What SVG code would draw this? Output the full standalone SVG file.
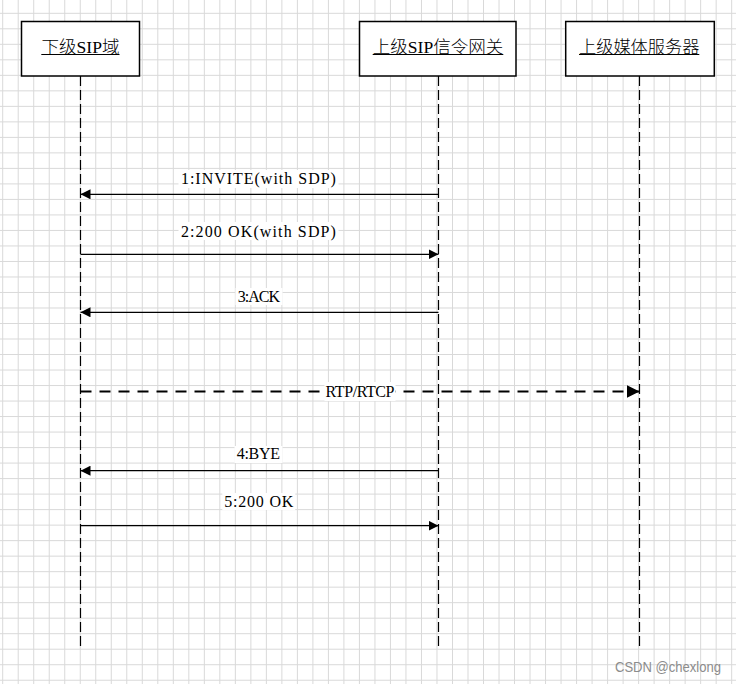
<svg xmlns="http://www.w3.org/2000/svg" width="736" height="684" viewBox="0 0 736 684">
  <style>
    .grid { stroke: #d9d9d9; stroke-width: 1; fill: none; }
    .box { fill: #ffffff; stroke: #000000; stroke-width: 1.5; }
    .life { stroke: #000000; stroke-width: 1.2; stroke-dasharray: 10 4; fill: none; }
    .ul { stroke: #000000; stroke-width: 1; }
    .hdr { font-family: "Liberation Serif", "Noto Sans CJK SC", serif; font-size: 17px; font-weight: 300; fill: #000000; text-anchor: middle; }
    .lat { font-weight: 400; }
    .lbl { font-family: "Liberation Serif", "Noto Sans CJK SC", serif; font-size: 16px; fill: #000000; text-anchor: middle; }
    .bg { fill: #ffffff; }
    .msg { stroke: #000000; stroke-width: 1.2; fill: none; }
    .rtp { stroke: #000000; stroke-width: 2; stroke-dasharray: 11 8; fill: none; }
    .wm { font-family: "Liberation Sans", "Noto Sans", sans-serif; font-size: 14px; fill: #8c8c8c; }
  </style>
  <defs>
    <marker id="arr" markerUnits="userSpaceOnUse" markerWidth="10" markerHeight="10" refX="10" refY="5" orient="auto">
      <path d="M0,0 L10,5 L0,10 Z" fill="#000000"/>
    </marker>
    <marker id="arrBig" markerUnits="userSpaceOnUse" markerWidth="13" markerHeight="13" refX="13" refY="6.5" orient="auto">
      <path d="M0,0 L13,6.5 L0,13 Z" fill="#000000"/>
    </marker>
  </defs>

  <rect x="0" y="0" width="736" height="684" fill="#ffffff"/>

  <g id="grid">
    <path class="grid" d="M2.7 0V684M18.21 0V684M33.72 0V684M49.23 0V684M64.74 0V684M80.25 0V684M95.76 0V684M111.27 0V684M126.78 0V684M142.29 0V684M157.8 0V684M173.31 0V684M188.82 0V684M204.33 0V684M219.84 0V684M235.35 0V684M250.86 0V684M266.37 0V684M281.88 0V684M297.39 0V684M312.9 0V684M328.41 0V684M343.92 0V684M359.43 0V684M374.94 0V684M390.45 0V684M405.96 0V684M421.47 0V684M436.98 0V684M452.49 0V684M468 0V684M483.51 0V684M499.02 0V684M514.53 0V684M530.04 0V684M545.55 0V684M561.06 0V684M576.57 0V684M592.08 0V684M607.59 0V684M623.1 0V684M638.61 0V684M654.12 0V684M669.63 0V684M685.14 0V684M700.65 0V684M716.16 0V684M731.67 0V684"/>
    <path class="grid" d="M0 13.3H736M0 28.81H736M0 44.32H736M0 59.83H736M0 75.34H736M0 90.85H736M0 106.36H736M0 121.87H736M0 137.38H736M0 152.89H736M0 168.4H736M0 183.91H736M0 199.42H736M0 214.93H736M0 230.44H736M0 245.95H736M0 261.46H736M0 276.97H736M0 292.48H736M0 307.99H736M0 323.5H736M0 339.01H736M0 354.52H736M0 370.03H736M0 385.54H736M0 401.05H736M0 416.56H736M0 432.07H736M0 447.58H736M0 463.09H736M0 478.6H736M0 494.11H736M0 509.62H736M0 525.13H736M0 540.64H736M0 556.15H736M0 571.66H736M0 587.17H736M0 602.68H736M0 618.19H736M0 633.7H736M0 649.21H736M0 664.72H736M0 680.23H736"/>
  </g>

  <g id="node-lower-sip">
    <rect class="box" x="21.5" y="21.5" width="118" height="54.5"/>
    <text class="hdr" x="80.5" y="52.5" textLength="78" lengthAdjust="spacingAndGlyphs">下级<tspan class="lat">SIP</tspan>域</text>
    <line class="ul" x1="41.3" y1="54.5" x2="119.5" y2="54.5"/>
    <line class="life" x1="80.5" y1="76" x2="80.5" y2="649"/>
  </g>

  <g id="node-upper-gateway">
    <rect class="box" x="359.5" y="21.5" width="156.5" height="54.5"/>
    <text class="hdr" x="438" y="52.5" textLength="130.5" lengthAdjust="spacingAndGlyphs">上级<tspan class="lat">SIP</tspan>信令网关</text>
    <line class="ul" x1="372.7" y1="54.5" x2="503.3" y2="54.5"/>
    <line class="life" x1="438.5" y1="76" x2="438.5" y2="649"/>
  </g>

  <g id="node-upper-media">
    <rect class="box" x="565.7" y="21.5" width="148.6" height="54.5"/>
    <text class="hdr" x="639.2" y="52.5" textLength="120.3" lengthAdjust="spacingAndGlyphs">上级媒体服务器</text>
    <line class="ul" x1="579" y1="54.5" x2="699.3" y2="54.5"/>
    <line class="life" x1="639.5" y1="76" x2="639.5" y2="649"/>
  </g>

  <g id="connectors">
    <line class="msg" x1="438.5" y1="194.3" x2="80.5" y2="194.3" marker-end="url(#arr)"/>
    <rect class="bg" x="178.5" y="170" width="160" height="18"/>
    <text class="lbl" x="258.4" y="184" textLength="155" lengthAdjust="spacing">1:INVITE(with SDP)</text>

    <line class="msg" x1="80.5" y1="254.3" x2="438.5" y2="254.3" marker-end="url(#arr)"/>
    <rect class="bg" x="178.5" y="222" width="160" height="18"/>
    <text class="lbl" x="258.4" y="236.5" textLength="155" lengthAdjust="spacing">2:200 OK(with SDP)</text>

    <line class="msg" x1="438.5" y1="312.3" x2="80.5" y2="312.3" marker-end="url(#arr)"/>
    <rect class="bg" x="235.5" y="288" width="47" height="17"/>
    <text class="lbl" x="258.9" y="301.5" textLength="42.5" lengthAdjust="spacing">3:ACK</text>

    <line class="rtp" x1="80.5" y1="391.5" x2="639.5" y2="391.5" marker-end="url(#arrBig)"/>
    <rect class="bg" x="324.5" y="382" width="71" height="19"/>
    <text class="lbl" x="360" y="397" textLength="69" lengthAdjust="spacing">RTP/RTCP</text>

    <line class="msg" x1="438.5" y1="470.7" x2="80.5" y2="470.7" marker-end="url(#arr)"/>
    <rect class="bg" x="234.5" y="446" width="48" height="17"/>
    <text class="lbl" x="258.4" y="459.3" textLength="43.3" lengthAdjust="spacing">4:BYE</text>

    <line class="msg" x1="80.5" y1="525.7" x2="438.5" y2="525.7" marker-end="url(#arr)"/>
    <rect class="bg" x="222.3" y="493" width="73" height="17"/>
    <text class="lbl" x="258.8" y="506.7" textLength="69" lengthAdjust="spacing">5:200 OK</text>
  </g>

  <text class="wm" x="615" y="672" textLength="106" lengthAdjust="spacingAndGlyphs">CSDN @chexlong</text>
</svg>
